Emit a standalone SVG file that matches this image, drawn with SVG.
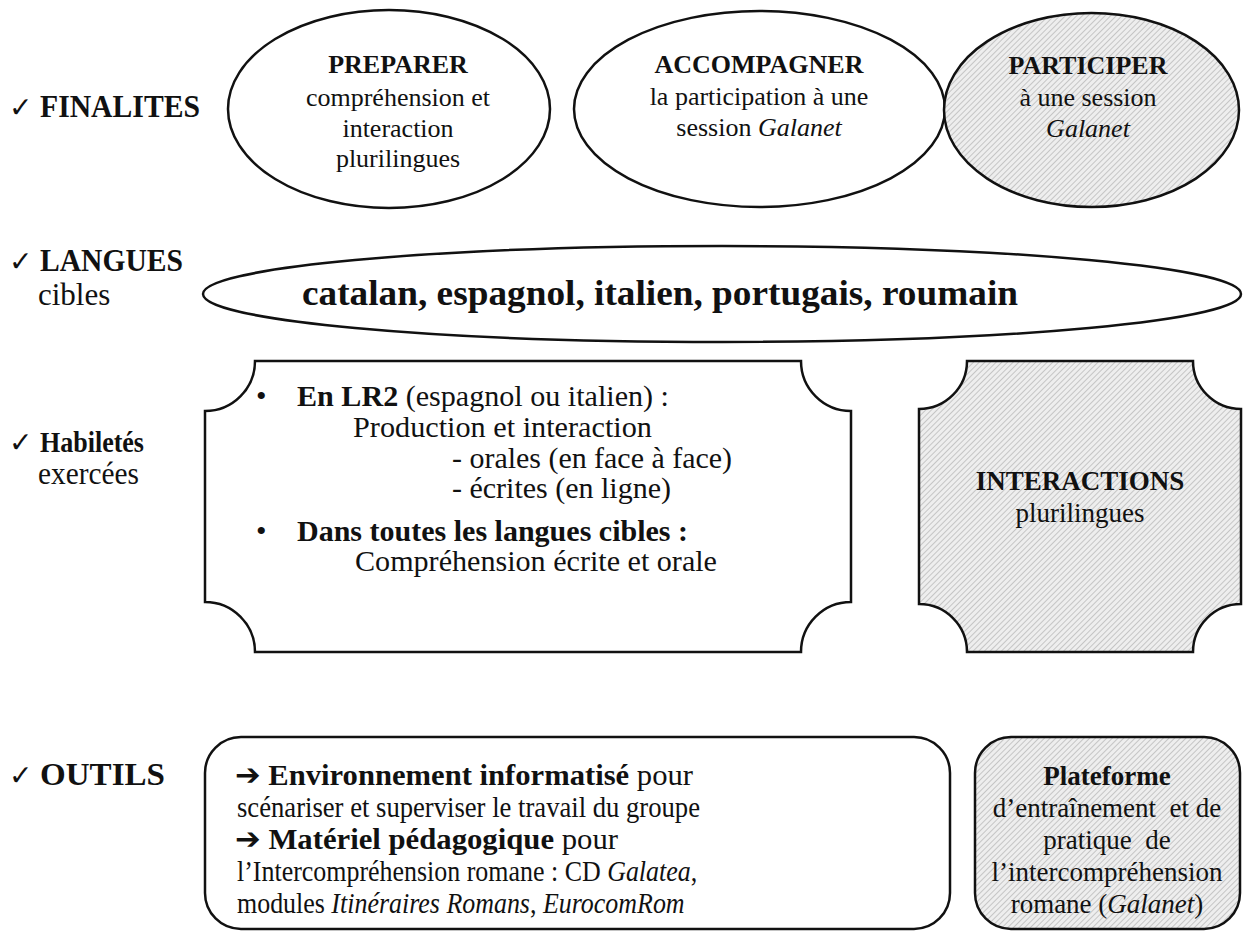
<svg xmlns="http://www.w3.org/2000/svg" width="1245" height="933" viewBox="0 0 1245 933">
<style>
text{font-family:"Liberation Serif","DejaVu Serif",serif;font-weight:normal;fill:#111}
.b{font-weight:bold}
.i{font-style:italic}
.lab{font-size:31px}
.e{font-size:26px;text-anchor:middle}
.h{font-size:30px}
.o{font-size:30px}
.p{font-size:27px;text-anchor:middle}
.shape{stroke:#111;stroke-width:2.5}
.chk{font-family:"DejaVu Sans",sans-serif;font-size:28px}
text .arr{font-family:"DejaVu Sans",sans-serif;font-size:30px;font-weight:bold}
</style>
<defs>
<pattern id="hatch" width="4" height="4" patternUnits="userSpaceOnUse" patternTransform="rotate(45)">
<rect width="4" height="4" fill="#eeeeee"/>
<line x1="0" y1="0" x2="0" y2="4" stroke="#b4b4b4" stroke-width="1.4"/>
</pattern>
</defs>

<g id="labels">
<text class="chk" x="9" y="117">✓</text>
<text class="lab b" x="40" y="117" textLength="160" lengthAdjust="spacingAndGlyphs">FINALITES</text>
<text class="chk" x="9" y="271">✓</text>
<text class="lab b" x="40" y="271" textLength="143" lengthAdjust="spacingAndGlyphs">LANGUES</text>
<text class="lab" x="38" y="305">cibles</text>
<text class="chk" x="9" y="452">✓</text>
<text class="b" x="40" y="452" font-size="29" textLength="104" lengthAdjust="spacingAndGlyphs">Habiletés</text>
<text class="lab" x="38" y="484" textLength="101" lengthAdjust="spacingAndGlyphs">exercées</text>
<text class="chk" x="9" y="785">✓</text>
<text class="lab b" x="40" y="785" textLength="125" lengthAdjust="spacingAndGlyphs">OUTILS</text>
</g>

<g id="preparer">
<ellipse class="shape" cx="389" cy="109" rx="161" ry="99" fill="#fff"/>
<text class="e b" x="398" y="73">PREPARER</text>
<text class="e" x="398" y="106">compréhension et</text>
<text class="e" x="398" y="137">interaction</text>
<text class="e" x="398" y="167">plurilingues</text>
</g>

<g id="accompagner">
<ellipse class="shape" cx="759.5" cy="109" rx="185.5" ry="98" fill="#fff"/>
<text class="e b" x="759" y="73">ACCOMPAGNER</text>
<text class="e" x="759" y="105">la participation à une</text>
<text class="e" x="759" y="136">session <tspan class="i">Galanet</tspan></text>
</g>

<g id="participer">
<ellipse class="shape" cx="1091.5" cy="110" rx="147.5" ry="97" fill="url(#hatch)"/>
<text class="e b" x="1088" y="74">PARTICIPER</text>
<text class="e" x="1088" y="106">à une session</text>
<text class="e i" x="1088" y="137">Galanet</text>
</g>

<g id="langues">
<ellipse class="shape" cx="722" cy="294" rx="519" ry="48" fill="#fff"/>
<text class="b" x="302" y="305" font-size="36" textLength="716" lengthAdjust="spacingAndGlyphs">catalan, espagnol, italien, portugais, roumain</text>
</g>

<g id="habiletes">
<path class="shape" fill="#fff" d="M255,361 H801 A50,50 0 0 0 851,411 V602 A50,50 0 0 0 801,652 H255 A50,50 0 0 0 205,602 V411 A50,50 0 0 0 255,361 Z"/>
<text class="h" x="256" y="406">•</text>
<text class="h" x="297" y="406" textLength="372" lengthAdjust="spacingAndGlyphs"><tspan class="b">En LR2</tspan> (espagnol ou italien) :</text>
<text class="h" x="353" y="437" textLength="299" lengthAdjust="spacingAndGlyphs">Production et interaction</text>
<text class="h" x="452" y="468" textLength="280" lengthAdjust="spacingAndGlyphs">- orales (en face à face)</text>
<text class="h" x="452" y="498" textLength="219" lengthAdjust="spacingAndGlyphs">- écrites (en ligne)</text>
<text class="h" x="256" y="541">•</text>
<text class="h b" x="297" y="541" textLength="391" lengthAdjust="spacingAndGlyphs">Dans toutes les langues cibles :</text>
<text class="h" x="355" y="571" textLength="362" lengthAdjust="spacingAndGlyphs">Compréhension écrite et orale</text>
</g>

<g id="interactions">
<path class="shape" fill="url(#hatch)" d="M967,361 H1193 A48,48 0 0 0 1241,409 V604 A48,48 0 0 0 1193,652 H967 A48,48 0 0 0 919,604 V409 A48,48 0 0 0 967,361 Z"/>
<text class="p b" x="1080" y="490">INTERACTIONS</text>
<text class="p" x="1080" y="522">plurilingues</text>
</g>

<g id="outils">
<rect class="shape" x="205" y="737" width="745" height="192" rx="36" ry="36" fill="#fff"/>
<text class="o" x="235" y="785" textLength="458" lengthAdjust="spacingAndGlyphs"><tspan class="arr">➔</tspan> <tspan class="b">Environnement informatisé</tspan> pour</text>
<text class="o" x="237" y="817" textLength="463" lengthAdjust="spacingAndGlyphs">scénariser et superviser le travail du groupe</text>
<text class="o" x="235" y="849" textLength="383" lengthAdjust="spacingAndGlyphs"><tspan class="arr">➔</tspan> <tspan class="b">Matériel pédagogique</tspan> pour</text>
<text class="o" transform="translate(237,881) scale(0.865,1)">l’Intercompréhension romane : CD <tspan class="i">Galatea</tspan>,</text>
<text class="o" transform="translate(237,913) scale(0.865,1)">modules <tspan class="i">Itinéraires Romans</tspan>, <tspan class="i">EurocomRom</tspan></text>
</g>

<g id="plateforme">
<rect class="shape" x="975" y="737" width="265" height="192" rx="36" ry="36" fill="url(#hatch)"/>
<text class="p b" x="1107" y="785">Plateforme</text>
<text class="p" x="1107" y="817" xml:space="preserve">d’entraînement  et de</text>
<text class="p" x="1107" y="849" xml:space="preserve">pratique  de</text>
<text class="p" x="1107" y="881">l’intercompréhension</text>
<text class="p" x="1107" y="913">romane (<tspan class="i">Galanet</tspan>)</text>
</g>

<g id="connectors"></g>
</svg>
